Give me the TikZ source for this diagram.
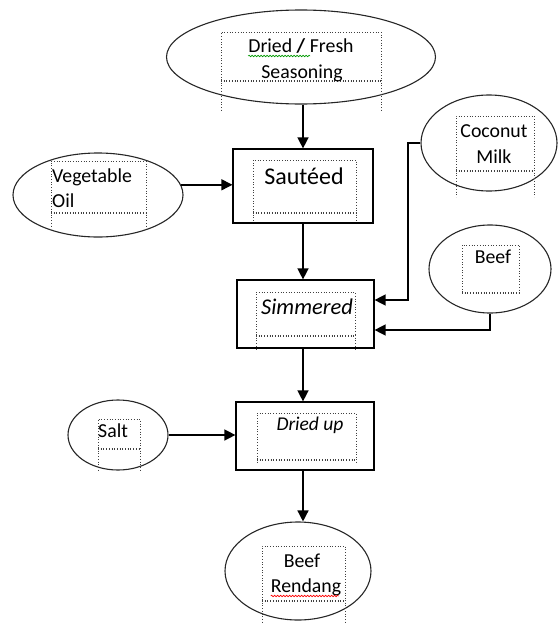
\documentclass[tikz,border=0pt]{standalone}
\usepackage{fontspec}
\setmainfont{Carlito}
\usetikzlibrary{shapes.geometric,arrows.meta,decorations.pathmorphing,calc}
\newcommand\txtframe[5]{%
  \draw[dbox] (#1,#4) -- (#1,#2) -- (#3,#2) -- (#3,#4);
  \draw[dbox] (#1,#4) -- (#3,#4);
  \draw[dbox] (#1,#4+1.2) -- (#3,#4+1.2);
  \draw[dbox] (#1,#4) -- (#1,#5);
  \draw[dbox] (#3,#4) -- (#3,#5);
}
\begin{document}
\begin{tikzpicture}[x=1pt,y=-1pt,
  shape line/.style={draw=black!85, line width=1.1pt},
  oval/.style={shape line, ellipse, inner sep=0pt},
  stepbox/.style={draw=black, line width=1.2pt, rectangle, inner sep=0pt},
  arr/.style={draw=black, line width=1.4pt, -{Triangle[length=11pt,width=11pt]}},
  dbox/.style={black!75, line width=0.7pt, dotted},
  lbl/.style={inner sep=0pt, anchor=base, font=\fontsize{19.8}{26}\selectfont},
  big/.style={inner sep=0pt, anchor=base, font=\fontsize{24}{28}\selectfont},
  squig/.style={line width=0.6pt, decorate, decoration={snake, amplitude=0.8pt, segment length=3pt}}
  ]
\useasboundingbox (0,0) rectangle (558,624);

% shapes
\node[oval, minimum width=269pt, minimum height=94pt] (seas) at (301,57) {};
\node[oval, minimum width=170pt, minimum height=84pt] (veg) at (98,195) {};
\node[oval, minimum width=136pt, minimum height=96pt] (coco) at (489,143) {};
\node[oval, minimum width=122pt, minimum height=88pt] (beef) at (490,269) {};
\node[oval, minimum width=100pt, minimum height=70pt] (salt) at (118,435) {};
\node[oval, minimum width=146pt, minimum height=98pt] (rend) at (298,571) {};

\node[stepbox, minimum width=140pt, minimum height=74pt] (saut) at (303,186) {};
\node[stepbox, minimum width=137pt, minimum height=68pt] (simm) at (305.5,314) {};
\node[stepbox, minimum width=138pt, minimum height=68pt] (dried) at (305,436) {};

% dotted text frames
\txtframe{221}{32}{381}{80}{112}
\txtframe{253}{160}{356}{212}{222}
\txtframe{51}{161}{146}{212}{228}
\txtframe{456}{116}{534}{170}{197}
\txtframe{462}{245}{519}{292}{292}
\txtframe{256}{292}{355}{335}{350}
\txtframe{257}{413}{356}{459}{464}
\txtframe{98}{419}{140}{448}{470}
\txtframe{262}{546}{345}{600}{624}

% labels
\node[lbl] (t1) at (301,52) {Dried \textbf{/} Fresh};
\node[lbl] (t2) at (302,78) {Seasoning};
\node[big] (t3) at (304,184) {Sautéed};
\node[lbl, anchor=base west] (t4) at (52,182) {Vegetable};
\node[lbl, anchor=base west] (t5) at (52,207) {Oil};
\node[lbl] (t6) at (494,137) {Coconut};
\node[lbl] (t7) at (494,163) {Milk};
\node[lbl] (t8) at (493,263) {Beef};
\node[big, font=\fontsize{22.5}{26}\selectfont\itshape] (t9) at (307,314) {Simmered};
\node[lbl, font=\fontsize{19.5}{26}\selectfont\itshape] (t10) at (310,430) {Dried up};
\node[lbl, anchor=base west] (t11) at (98,437) {Salt};
\node[lbl] (t12) at (302,567) {Beef};
\node[lbl] (t13) at (306,592) {Rendang};

% spell-check squiggles
\draw[squig, green!60!black] (t1.base west) ++(0,4) -- ++(62,0);
\draw[squig, red] (t13.base west) ++(0,4) -- ++(68,0);

% connectors
\coordinate (s1) at ($(simm.east)+(0,-14)$);
\coordinate (s2) at ($(simm.east)+(0,16)$);
\coordinate (cbend) at (408,0);
\draw[arr] (saut.north |- seas.south) -- (saut.north);
\draw[arr] (veg.7) -- (veg.7 -| saut.west);
\draw[arr] (saut.south) -- (saut.south |- simm.north);
\draw[arr] (coco.west) -| (cbend |- s1) -- (s1);
\draw[arr] (beef.south) |- (s2);
\draw[arr] (simm.south -| saut.south) -- (dried.north -| saut.south);
\draw[arr] (salt.east) -- (salt.east -| dried.west);
\draw[arr] (dried.south -| saut.south) -- (rend.north -| saut.south);
\end{tikzpicture}
\end{document}
